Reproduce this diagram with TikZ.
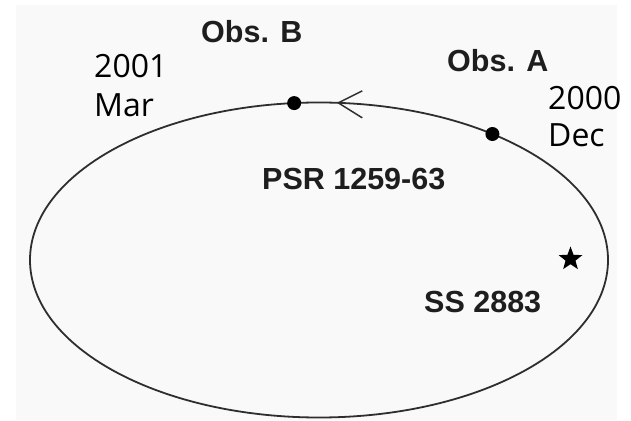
\documentclass[tikz,border=0pt]{standalone}
\usepackage{fontspec}
\usepackage{tikz}
\usepackage{xcolor}
\usetikzlibrary{positioning,shapes.geometric}
\setmainfont{Liberation Sans}
\newfontfamily\datefont{Open Sans}
\definecolor{OrbitGrey}{HTML}{2E2E2E}
\definecolor{PaperGrey}{HTML}{F9F9F9}
\definecolor{InkGrey}{HTML}{1E1E1E}

\tikzset{
  obslabel/.style={
    font=\fontsize{30.5}{36}\selectfont\bfseries,
    text=InkGrey,
    inner sep=0pt,
    anchor=base west
  },
  datelabel/.style={
    font=\fontsize{32}{39}\selectfont\datefont,
    inner sep=0pt,
    anchor=base west
  },
  posdot/.style={
    circle,
    fill=black,
    inner sep=0pt,
    minimum size=14pt
  }
}

\begin{document}
\begin{tikzpicture}[x=1pt, y=1pt]
    \useasboundingbox (0,0) rectangle (631,420);
    \fill[PaperGrey] (16,0) rectangle (617,415);

    % orbit of the pulsar
    \node[
      ellipse,
      draw=OrbitGrey,
      line width=1.8pt,
      minimum width=578pt,
      minimum height=315pt,
      inner sep=0pt,
      outer sep=0pt
    ] (orbit) at (319,160) {};

    \node[posdot] (obsB) at (orbit.99.4) {};
    \node[posdot] (obsA) at (orbit.36.6) {};

    % sense of motion
    \coordinate (sense) at (orbit.83);
    \draw[OrbitGrey, line width=1.5pt] ([shift={(24,12)}]sense) -- (sense) -- ++(24,-15);

    \node[
      star,
      star points=5,
      star point ratio=2.4,
      fill=black,
      inner sep=0pt,
      minimum size=25pt
    ] (companion) at (570.5,161) {};

    \node[obslabel] (obsBlabel) at (201,377) {Obs. B};
    \node[obslabel] (obsAlabel) at (447,348.5) {Obs. A};
    \node[obslabel] (psr) at (262,230.5) {PSR 1259-63};
    \node[obslabel] (ss) at (424,107) {SS 2883};

    \node[datelabel] (yearB) at (94,342) {2001};
    \node[datelabel] (monthB) at ([yshift=-39pt]yearB.base west) {Mar};
    \node[datelabel] (yearA) at (548,310) {2000};
    \node[datelabel] (monthA) at ([yshift=-37pt]yearA.base west) {Dec};
  \end{tikzpicture}
\end{document}
